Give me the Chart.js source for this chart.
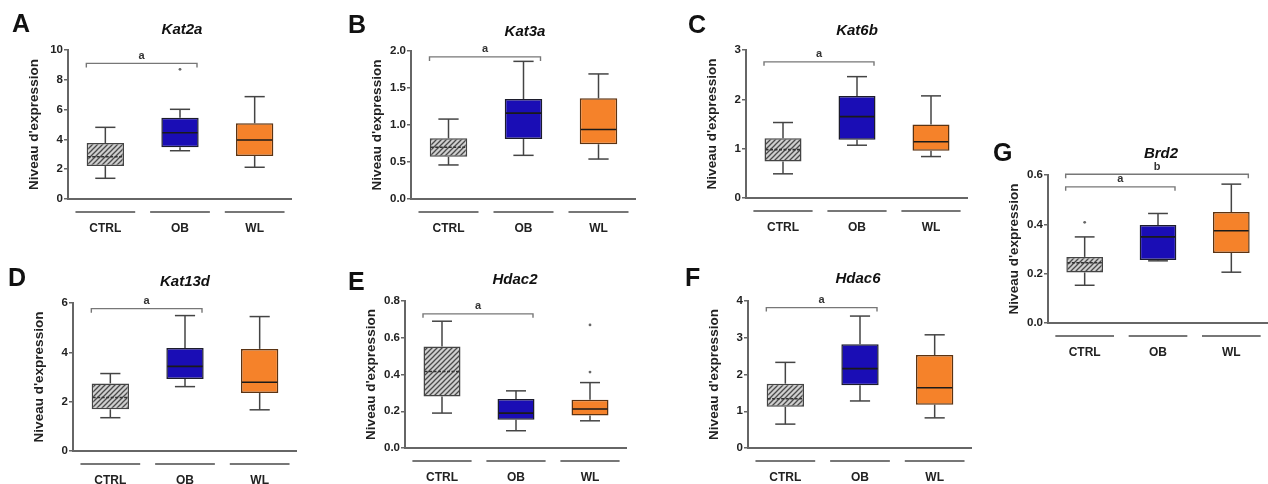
<!DOCTYPE html>
<html>
<head>
<meta charset="utf-8">
<script src="https://cdn.jsdelivr.net/npm/chart.js@4.4.0/dist/chart.umd.min.js"></script>
<style>
body { margin: 0; background: #fff; width: 1268px; height: 484px; overflow: hidden; position: relative; font-family: "Liberation Sans", Arial, sans-serif; }
.letter { position: absolute; font-weight: bold; font-size: 25px; line-height: 1; color: #111; }
.gene { position: absolute; font-weight: bold; font-style: italic; font-size: 15px; line-height: 1; color: #111; transform: translateX(-50%); white-space: nowrap; }
canvas { position: absolute; }
</style>
</head>
<body>
<script>
// groups on the x axis
const groups = ['CTRL', 'OB', 'WL'];

// each row: [low whisker, q1, median, q3, high whisker] for CTRL, OB, WL
const kat2aBox = [[1.39, 2.21, 2.84, 3.76, 4.81], [3.24, 3.47, 4.45, 5.46, 6.02], [2.13, 2.89, 3.96, 5.08, 6.87]];
const kat3aBox = [[0.46, 0.57, 0.70, 0.82, 1.08], [0.59, 0.81, 1.16, 1.35, 1.86], [0.54, 0.74, 0.94, 1.36, 1.69]];
const kat6bBox = [[0.49, 0.74, 0.98, 1.21, 1.53], [1.07, 1.18, 1.65, 2.07, 2.46], [0.84, 0.96, 1.14, 1.49, 2.07]];
const kat13dBox = [[1.35, 1.69, 2.17, 2.74, 3.14], [2.61, 2.92, 3.43, 4.18, 5.49], [1.67, 2.35, 2.79, 4.14, 5.45]];
const hdac2Box = [[0.19, 0.28, 0.416, 0.553, 0.69], [0.094, 0.154, 0.19, 0.266, 0.311], [0.148, 0.177, 0.212, 0.262, 0.356]];
const hdac6Box = [[0.65, 1.12, 1.34, 1.75, 2.33], [1.28, 1.71, 2.16, 2.82, 3.59], [0.82, 1.18, 1.64, 2.53, 3.08]];
const brd2Box = [[0.153, 0.205, 0.244, 0.268, 0.349], [0.252, 0.255, 0.349, 0.397, 0.444], [0.206, 0.284, 0.374, 0.45, 0.563]];

// single points outside the whiskers
const kat2aOut = [[], [8.7], []];
const hdac2Out = [[], [], [0.413, 0.67]];
const brd2Out = [[0.408], [], []];
const noOut = [[], [], []];

// significance brackets: [from group, to group, height, label]
const kat2aSig = [[0, 1, 9.1, 'a']];
const kat3aSig = [[0, 1, 1.92, 'a']];
const kat6bSig = [[0, 1, 2.76, 'a']];
const kat13dSig = [[0, 1, 5.77, 'a']];
const hdac2Sig = [[0, 1, 0.73, 'a']];
const hdac6Sig = [[0, 1, 3.82, 'a']];
const brd2Sig = [[0, 1, 0.552, 'a'], [0, 2, 0.603, 'b']];

const fillColors = ['ctrl', '#1a0db5', '#f5822a'];
const edgeColors = ['#444', '#1c1c2c', '#5b3312'];
const FONT = '"Liberation Sans", Arial, sans-serif';

function hatchPattern() {
    const c = document.createElement('canvas');
    c.width = 5; c.height = 5;
    const g = c.getContext('2d');
    g.fillStyle = '#cfcfcf';
    g.fillRect(0, 0, 5, 5);
    g.strokeStyle = '#4a4a4a';
    g.lineWidth = 1.3;
    g.beginPath();
    g.moveTo(-1, 6); g.lineTo(6, -1);
    g.moveTo(-1, 1); g.lineTo(1, -1);
    g.moveTo(4, 6); g.lineTo(6, 4);
    g.stroke();
    return g.createPattern(c, 'repeat');
}

function line(ctx, x1, y1, x2, y2) {
    ctx.beginPath();
    ctx.moveTo(x1, y1);
    ctx.lineTo(x2, y2);
    ctx.stroke();
}

// whiskers, medians, outliers, brackets and the group lines under the axis
const boxExtras = {
    id: 'boxExtras',
    afterDatasetsDraw(chart, args, opts) {
        const ctx = chart.ctx;
        const x = chart.scales.x, y = chart.scales.y;
        const meta = chart.getDatasetMeta(0);
        ctx.save();
        opts.box.forEach((s, i) => {
            const bar = meta.data[i];
            const cx = bar.x, half = bar.width / 2, cap = bar.width * 0.27;
            ctx.strokeStyle = '#444';
            ctx.lineWidth = 1.5;
            ctx.setLineDash([]);
            line(ctx, cx, y.getPixelForValue(s[0]), cx, y.getPixelForValue(s[1]));
            line(ctx, cx, y.getPixelForValue(s[3]), cx, y.getPixelForValue(s[4]));
            line(ctx, cx - cap, y.getPixelForValue(s[0]), cx + cap, y.getPixelForValue(s[0]));
            line(ctx, cx - cap, y.getPixelForValue(s[4]), cx + cap, y.getPixelForValue(s[4]));
            // median
            ctx.strokeStyle = i === 0 ? '#333' : '#1a1a1a';
            ctx.lineWidth = 1.6;
            if (i === 0) ctx.setLineDash([3, 1.5]);
            const ym = y.getPixelForValue(s[2]);
            line(ctx, cx - half + 1, ym, cx + half - 1, ym);
            ctx.setLineDash([]);
            // outliers
            ctx.fillStyle = '#666';
            opts.out[i].forEach(v => {
                ctx.beginPath();
                ctx.arc(cx, y.getPixelForValue(v), 1.4, 0, Math.PI * 2);
                ctx.fill();
            });
        });
        // brackets
        ctx.strokeStyle = '#777';
        ctx.lineWidth = 1.4;
        ctx.fillStyle = '#333';
        ctx.font = 'bold 11px ' + FONT;
        ctx.textAlign = 'center';
        ctx.textBaseline = 'bottom';
        opts.sig.forEach(b => {
            const x1 = x.getPixelForValue(b[0]) - 19;
            const x2 = x.getPixelForValue(b[1]) + 17;
            const yb = y.getPixelForValue(b[2]);
            ctx.beginPath();
            ctx.moveTo(x1, yb + 4);
            ctx.lineTo(x1, yb);
            ctx.lineTo(x2, yb);
            ctx.lineTo(x2, yb + 4);
            ctx.stroke();
            ctx.fillText(b[3], (x1 + x2) / 2, yb - 2);
        });
        // group lines under the axis
        const cw = x.width / groups.length;
        ctx.strokeStyle = '#777';
        ctx.lineWidth = 2;
        groups.forEach((g, i) => {
            const cx = x.getPixelForValue(i);
            line(ctx, cx - cw * 0.4, y.bottom + 13, cx + cw * 0.4, y.bottom + 13);
        });
        ctx.restore();
    }
};

function addText(cls, text, left, top) {
    const d = document.createElement('div');
    d.className = cls;
    d.textContent = text;
    d.style.left = left + 'px';
    d.style.top = top + 'px';
    document.body.appendChild(d);
}

function drawPanel(p) {
    const padTop = 20, axisW = 56, xAxisH = 48;
    const canvas = document.createElement('canvas');
    canvas.width = p.right - p.axisX + axisW;
    canvas.height = p.bottom - p.top + padTop + xAxisH;
    canvas.style.left = (p.axisX - axisW) + 'px';
    canvas.style.top = (p.top - padTop) + 'px';
    document.body.appendChild(canvas);

    addText('letter', p.letter, p.letterX, p.letterY - 3);
    addText('gene', p.gene, p.geneX, p.geneY - 2);

    const colors = fillColors.map(c => c === 'ctrl' ? hatchPattern() : c);

    new Chart(canvas.getContext('2d'), {
        type: 'bar',
        data: {
            labels: groups,
            datasets: [{
                data: p.box.map(s => [s[1], s[3]]),
                backgroundColor: colors,
                borderColor: edgeColors,
                borderWidth: 1.5,
                borderSkipped: false,
                barPercentage: 0.5,
                categoryPercentage: 1
            }]
        },
        options: {
            responsive: false,
            animation: false,
            layout: { padding: { top: padTop, left: 0, right: 0, bottom: 0 } },
            plugins: {
                legend: { display: false },
                tooltip: { enabled: false },
                boxExtras: { box: p.box, out: p.out, sig: p.sig }
            },
            scales: {
                x: {
                    grid: { display: false, drawTicks: false },
                    border: { display: true, color: '#666', width: 2 },
                    ticks: { color: '#222', padding: 22, font: { family: FONT, size: 12, weight: 'bold' } },
                    afterFit: s => { s.height = xAxisH; }
                },
                y: {
                    min: 0,
                    max: p.max,
                    ticks: {
                        stepSize: p.step,
                        color: '#222',
                        padding: 1,
                        font: { family: FONT, size: 11.5, weight: 'bold' },
                        callback: v => v.toFixed(p.dec)
                    },
                    grid: { display: true, drawOnChartArea: false, drawTicks: true, tickLength: 4, color: '#666', lineWidth: 1.5 },
                    border: { display: true, color: '#666', width: 2 },
                    title: {
                        display: true,
                        text: "Niveau d'expression",
                        color: '#222',
                        font: { family: FONT, size: 13.5, weight: 'bold' },
                        padding: { top: 14, bottom: 0 }
                    },
                    afterFit: s => { s.width = axisW; }
                }
            }
        },
        plugins: [boxExtras]
    });
}

drawPanel({ letter: 'A', gene: 'Kat2a', box: kat2aBox, out: kat2aOut, sig: kat2aSig, max: 10, step: 2, dec: 0,
    axisX: 68, top: 50, bottom: 199, right: 292, letterX: 12, letterY: 14, geneX: 182, geneY: 23 });
drawPanel({ letter: 'B', gene: 'Kat3a', box: kat3aBox, out: noOut, sig: kat3aSig, max: 2, step: 0.5, dec: 1,
    axisX: 411, top: 51, bottom: 199, right: 636, letterX: 348, letterY: 15, geneX: 525, geneY: 25 });
drawPanel({ letter: 'C', gene: 'Kat6b', box: kat6bBox, out: noOut, sig: kat6bSig, max: 3, step: 1, dec: 0,
    axisX: 746, top: 50, bottom: 198, right: 968, letterX: 688, letterY: 15, geneX: 857, geneY: 24 });
drawPanel({ letter: 'D', gene: 'Kat13d', box: kat13dBox, out: noOut, sig: kat13dSig, max: 6, step: 2, dec: 0,
    axisX: 73, top: 303, bottom: 451, right: 297, letterX: 8, letterY: 268, geneX: 185, geneY: 275 });
drawPanel({ letter: 'E', gene: 'Hdac2', box: hdac2Box, out: hdac2Out, sig: hdac2Sig, max: 0.8, step: 0.2, dec: 1,
    axisX: 405, top: 301, bottom: 448, right: 627, letterX: 348, letterY: 272, geneX: 515, geneY: 273 });
drawPanel({ letter: 'F', gene: 'Hdac6', box: hdac6Box, out: noOut, sig: hdac6Sig, max: 4, step: 1, dec: 0,
    axisX: 748, top: 301, bottom: 448, right: 972, letterX: 685, letterY: 268, geneX: 858, geneY: 272 });
drawPanel({ letter: 'G', gene: 'Brd2', box: brd2Box, out: brd2Out, sig: brd2Sig, max: 0.6, step: 0.2, dec: 1,
    axisX: 1048, top: 175, bottom: 323, right: 1268, letterX: 993, letterY: 143, geneX: 1161, geneY: 147 });
</script>
</body>
</html>
